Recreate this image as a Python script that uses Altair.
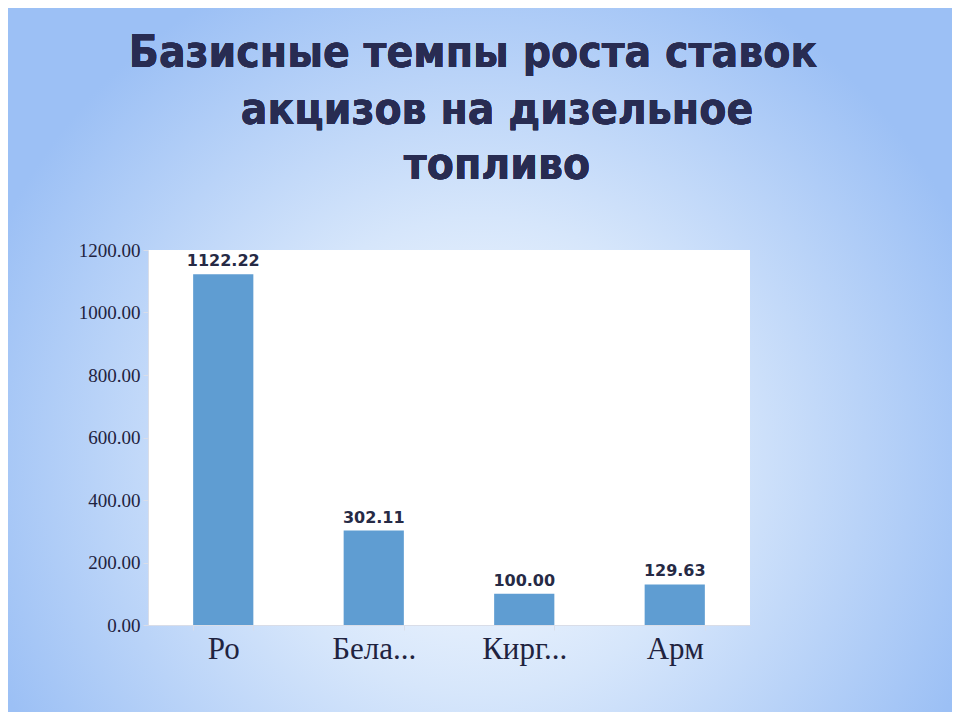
import altair as alt
import pandas as pd

countries = ["Ро", "Бела...", "Кирг...", "Арм"]
values = [1122.22, 302.11, 100.00, 129.63]
title_lines = ["Базисные темпы роста ставок", "акцизов на дизельное", "топливо"]
y_ticks = [0, 200, 400, 600, 800, 1000, 1200]

df = pd.DataFrame({"country": countries, "value": values})

W, H = 602, 375
PL, PT, PR, PB = 140, 242, 202, 87

bg_grad = {
    "gradient": "radial",
    "x1": 0.5, "y1": 0.6, "r1": 0.0,
    "x2": 0.5, "y2": 0.6, "r2": 0.55,
    "stops": [
        {"offset": 0.0, "color": "#ffffff"},
        {"offset": 0.45, "color": "#d6e6fb"},
        {"offset": 1.0, "color": "#9cc0f5"},
    ],
}

bg = alt.Chart(df).mark_rect(fill=bg_grad, clip=False).encode(
    x=alt.value(-PL - 10), x2=alt.value(W + PR + 10),
    y=alt.value(-PT - 10), y2=alt.value(H + PB + 10),
)
plotbg = alt.Chart(df).mark_rect(fill="white", clip=False).encode(
    x=alt.value(0), x2=alt.value(W), y=alt.value(0), y2=alt.value(H),
)

title_pos = [(325, -183), (349, -126), (349, -71)]
title_layers = [
    alt.Chart(df).mark_text(
        text=line, font="DejaVu Sans Condensed, Open Sans, sans-serif",
        fontWeight="bold", fontSize=44,
        color="#282c52", align="center", baseline="alphabetic", clip=False,
    ).encode(x=alt.value(px), y=alt.value(py))
    for line, (px, py) in zip(title_lines, title_pos)
]

xenc = alt.X(
    "country:N", sort=countries, title=None,
    scale=alt.Scale(paddingInner=0.6, paddingOuter=0.3),
    axis=alt.Axis(labelAngle=0, labelFont="Liberation Serif", labelFontSize=31,
                  labelColor="#1f2340", labelPadding=4, tickBand="extent",
                  tickColor="#d9dde8", tickSize=5, domainColor="#d9dde8",
                  zindex=2),
)
yenc = alt.Y(
    "value:Q", title=None,
    scale=alt.Scale(domain=[0, 1200]),
    axis=alt.Axis(values=y_ticks, format=".2f", grid=False,
                  labelFont="Liberation Serif", labelFontSize=19,
                  labelColor="#1f2340", tickColor="#d9dde8", tickSize=5,
                  domainColor="#d9dde8", labelPadding=3, zindex=2),
)

bars = alt.Chart(df).mark_bar(color="#5f9dd2").encode(x=xenc, y=yenc)
labels = alt.Chart(df).mark_text(
    dy=-13, font="DejaVu Sans", fontWeight="bold", fontSize=16, color="#262a45"
).encode(x=alt.X("country:N", sort=countries), y="value:Q",
         text=alt.Text("value:Q", format=".2f"))

chart = alt.layer(bg, plotbg, bars, labels, *title_layers).properties(
    width=W, height=H,
    padding={"left": PL, "top": PT, "right": PR, "bottom": PB},
    autosize=alt.AutoSizeParams(type="none"),
).configure_view(stroke=None).configure(background="#9cc0f5")

chart.save("out.html", embed_options={"renderer": "svg", "actions": False})
